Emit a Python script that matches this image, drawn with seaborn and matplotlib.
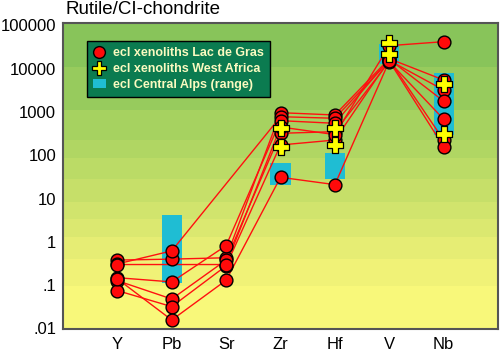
import numpy as np
import pandas as pd
import matplotlib
matplotlib.use("Agg")
import matplotlib.pyplot as plt
from matplotlib.patches import Rectangle
from matplotlib.lines import Line2D
import seaborn as sns

elements = ["Y", "Pb", "Sr", "Zr", "Hf", "V", "Nb"]

# Lac de Gras eclogite xenoliths (rutile / CI-chondrite)
lac_A = [0.38, 0.40, 0.43, 963, 852, 17000, 5480]
lac_B = [0.31, 0.62, np.nan, 778, 716, 15500, 3220]
lac_C = [0.149, 0.119, 0.82, 630, 548, 16500, 1780]
lac_D = [0.127, 0.048, 0.38, 322, 351, 14500, 680]
lac_E = [0.075, 0.032, 0.28, 173, 225, 16000, 225]
lac_F = [0.14, 0.0157, 0.13, 31, 21, 15000, 158]
lac_G = [0.30, np.nan, 0.30, 450, 300, 34000, 42000]
lac_samples = {"A": lac_A, "B": lac_B, "C": lac_C, "D": lac_D,
               "E": lac_E, "F": lac_F, "G": lac_G}

# West Africa eclogite xenoliths
wa_1 = [np.nan, np.nan, np.nan, 420, 420, 38600, 4360]
wa_2 = [np.nan, np.nan, np.nan, 153, 173, 21500, 305]

# Central Alps eclogites (range)
alps_low = [np.nan, 0.114, np.nan, 21, 28, 12600, 294]
alps_high = [np.nan, 4.1, np.nan, 65, 111, 36600, 8080]

ytick_vals = [0.01, 0.1, 1, 10, 100, 1000, 10000, 100000]
ytick_labels = [".01", ".1", "1", "10", "100", "1000", "10000", "100000"]

# ---- build data frames ----
xpos = np.arange(1, len(elements) + 1)
rows = []
for name, vals in lac_samples.items():
    for x, v in zip(xpos, vals):
        rows.append({"sample": name, "x": x, "value": v})
lac_df = pd.DataFrame(rows).dropna()

wa_rows = []
for name, vals in {"1": wa_1, "2": wa_2}.items():
    for x, v in zip(xpos, vals):
        wa_rows.append({"sample": name, "x": x, "value": v})
wa_df = pd.DataFrame(wa_rows).dropna()

alps_df = pd.DataFrame({"x": xpos, "low": alps_low, "high": alps_high}).dropna()

sns.set_style("white")
plt.rcParams["font.family"] = ["Liberation Sans", "DejaVu Sans"]

fig = plt.figure(figsize=(5.0, 3.51), dpi=100)
ax = fig.add_axes([0.126, 0.0627, 0.870, 0.8718])

# background bands (pixel rows in the reference)
band_px = [23, 66.7, 110, 140, 158, 179, 201.7, 219, 237.3, 259.3, 286, 329]
band_cols = ["#88c45a", "#97cb5d", "#a6d260", "#b0d663", "#bbdb66", "#c6df69",
             "#d1e46d", "#dbe870", "#e6ed74", "#f0f277", "#f8f87a"]
for i, c in enumerate(band_cols):
    f_top = 1 - (band_px[i] - 23) / 306
    f_bot = 1 - (band_px[i + 1] - 23) / 306
    ax.add_patch(Rectangle((0, f_bot), 1, f_top - f_bot, transform=ax.transAxes,
                           color=c, zorder=0, lw=0))

ax.set_yscale("log")

# Central Alps ranges
ax.bar(alps_df["x"], alps_df["high"] - alps_df["low"], bottom=alps_df["low"],
       width=0.37, color="#1fbdd3", zorder=1, linewidth=0)

# Lac de Gras lines
sns.lineplot(data=lac_df, x="x", y="value", units="sample", estimator=None,
             color="#ff1010", lw=1.0, ax=ax, zorder=2, legend=False)
# Lac de Gras markers
sns.scatterplot(data=lac_df, x="x", y="value", marker="o", s=85,
                color="#ff0a0a", edgecolor="black", linewidth=1.0, ax=ax,
                zorder=3, legend=False)
# West Africa markers
sns.scatterplot(data=wa_df, x="x", y="value", marker="P", s=140,
                color="#ffff00", edgecolor="black", linewidth=0.9, ax=ax,
                zorder=4, legend=False)

ax.set_xlim(0, 8)
ax.set_ylim(0.00974, 113500)
ax.set_xticks(xpos)
ax.set_xticklabels(elements)
ax.set_yticks(ytick_vals)
ax.set_yticklabels(ytick_labels)
ax.set_xlabel("")
ax.set_ylabel("")
ax.yaxis.set_minor_locator(matplotlib.ticker.LogLocator(base=10, subs=np.arange(2, 10)))
ax.yaxis.set_minor_formatter(matplotlib.ticker.NullFormatter())
ax.tick_params(axis="y", which="major", direction="in", length=5, width=1.2,
               colors="#222222", labelsize=12, pad=5)
ax.tick_params(axis="y", which="minor", direction="in", length=3, width=1.0,
               colors="#222222")
ax.tick_params(axis="x", which="major", direction="in", length=5, width=1.0,
               colors="#222222", labelsize=12, pad=6)
for lab in ax.get_xticklabels() + ax.get_yticklabels():
    lab.set_color("black")
for sp in ax.spines.values():
    sp.set_color("#555555")
    sp.set_linewidth(1.5)
    sp.set_visible(True)

fig.text(0.131, 0.972, "Rutile/CI-chondrite", fontsize=13.5, va="center",
         ha="left", color="black")

handles = [
    Line2D([], [], marker="o", ls="", markersize=8.5, markerfacecolor="#ff0a0a",
           markeredgecolor="black", markeredgewidth=1.0),
    Line2D([], [], marker="P", ls="", markersize=10, markerfacecolor="#ffff00",
           markeredgecolor="black", markeredgewidth=0.9),
    Rectangle((0, 0), 1, 1, facecolor="#1fbdd3", edgecolor="none"),
]
labels = ["ecl xenoliths Lac de Gras", "ecl xenoliths West Africa",
          "ecl Central Alps (range)"]
leg = ax.legend(handles, labels, loc="upper left", bbox_to_anchor=(0.055, 0.941),
                frameon=True, fancybox=False, framealpha=1, facecolor="#0b7b50",
                edgecolor="black", borderpad=0.5, labelspacing=0.3,
                handlelength=1.0, handletextpad=0.6, borderaxespad=0,
                prop={"weight": "bold", "size": 9})
leg.get_frame().set_linewidth(1.0)
for t in leg.get_texts():
    t.set_color("#fafac0")
leg.set_zorder(10)

fig.savefig("out.png", dpi=100, facecolor="white")
